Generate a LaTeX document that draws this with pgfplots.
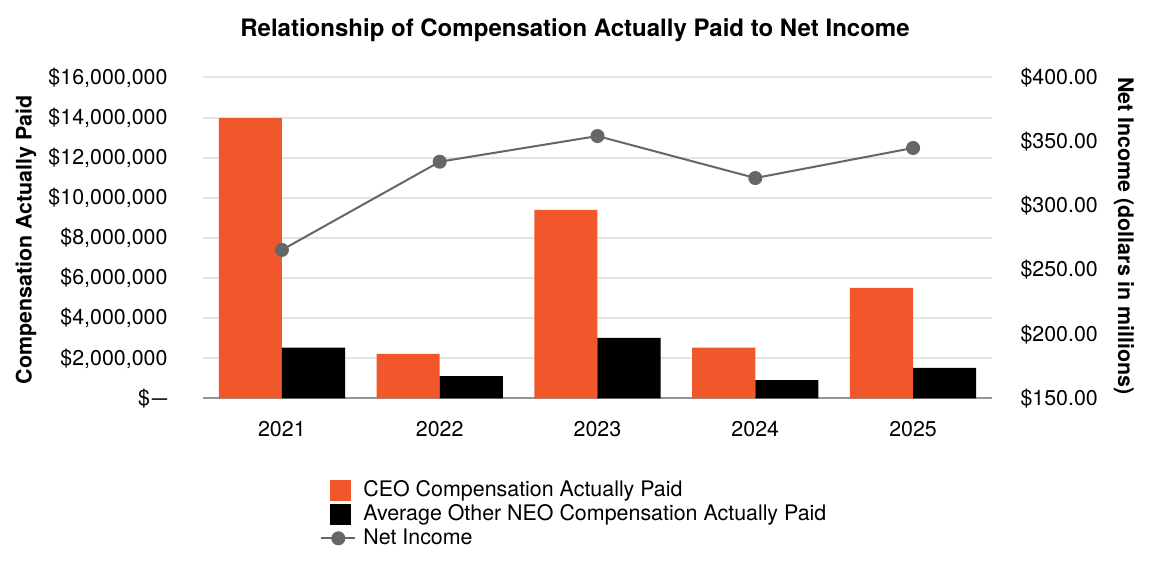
\documentclass[border=0pt]{standalone}
\usepackage{fontspec}
\setmainfont{TeX Gyre Heros}
\usepackage{pgfplots}
\pgfplotsset{compat=1.18}
\definecolor{ceo}{RGB}{240,87,43}
\definecolor{ni}{RGB}{102,102,102}
\definecolor{gridc}{RGB}{228,228,228}
\definecolor{basec}{RGB}{150,150,150}

\begin{document}
\fontsize{10.7pt}{12.8pt}\selectfont
\begin{tikzpicture}
\useasboundingbox (0,0) rectangle (576pt,288pt);

% bars, left axis
\begin{axis}[
  at={(101.5pt,88.75pt)}, anchor=south west,
  scale only axis, width=394.5pt, height=160.5pt,
  xmin=-0.5, xmax=4.5, ymin=0, ymax=16e6,
  axis x line*=bottom, axis y line*=left,
  x axis line style={draw=basec, line width=1pt, -},
  y axis line style={draw=none},
  major tick length=0pt,
  xtick={0,1,2,3,4},
  xticklabels={2021,2022,2023,2024,2025},
  xticklabel style={yshift=-7.5pt},
  ytick={0,2e6,4e6,6e6,8e6,10e6,12e6,14e6,16e6},
  yticklabels={{\$\kern1pt\scalebox{1.3}[1]{–}},{\$2,000,000},{\$4,000,000},{\$6,000,000},{\$8,000,000},{\$10,000,000},{\$12,000,000},{\$14,000,000},{\$16,000,000}},
  yticklabel style={xshift=-14pt},
  ymajorgrids, grid style={gridc, line width=1pt},
  scaled y ticks=false,
]
\addplot[ybar, bar width=0.4, bar shift=-0.2, fill=ceo, draw=none]
  coordinates {(0,13.98e6) (1,2.22e6) (2,9.40e6) (3,2.53e6) (4,5.51e6)};
\addplot[ybar, bar width=0.4, bar shift=0.2, fill=black, draw=none]
  coordinates {(0,2.53e6) (1,1.12e6) (2,3.02e6) (3,0.92e6) (4,1.52e6)};
\end{axis}

% net income, right axis
\begin{axis}[
  at={(101.5pt,88.75pt)}, anchor=south west,
  scale only axis, width=394.5pt, height=160.5pt,
  xmin=-0.5, xmax=4.5, ymin=150, ymax=400,
  axis y line*=right, hide x axis,
  y axis line style={draw=none},
  major tick length=0pt,
  ytick={150,200,250,300,350,400},
  yticklabels={\$150.00,\$200.00,\$250.00,\$300.00,\$350.00,\$400.00},
  yticklabel style={xshift=10.5pt},
  legend style={at={(0.1405,-0.235)}, anchor=north west, draw=none, fill=none,
    column sep=2.5pt,
    nodes={inner sep=1pt, text height=8pt, text depth=2pt, anchor=west}},
  legend cell align=left,
]
\addlegendimage{legend image code/.code={\fill[ceo] (4.5pt,-5pt) rectangle (14.5pt,5pt);}}
\addlegendentry{CEO Compensation Actually Paid}
\addlegendimage{legend image code/.code={\fill[black] (4.5pt,-5pt) rectangle (14.5pt,5pt);}}
\addlegendentry{Average Other NEO Compensation Actually Paid}
\addplot[ni, line width=1pt, mark=*, mark size=3pt, mark options={fill=ni, draw=ni}]
  coordinates {(0,265.7) (1,334.4) (2,354.4) (3,321.7) (4,345.1)};
\addlegendentry{Net Income}
\end{axis}

\node[font=\fontsize{12pt}{14pt}\selectfont\bfseries] at (287.5pt,273pt)
  {Relationship of Compensation Actually Paid to Net Income};
\node[rotate=90, font=\bfseries] at (13pt,168pt) {Compensation Actually Paid};
\node[rotate=-90, font=\bfseries] at (562pt,170pt) {Net Income (dollars in millions)};
\end{tikzpicture}
\end{document}
